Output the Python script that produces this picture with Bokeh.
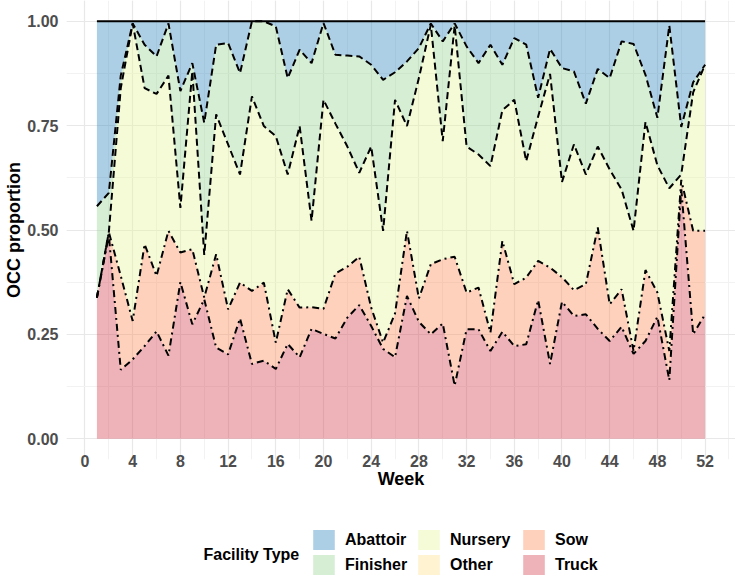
from bokeh.plotting import figure
from bokeh.layouts import column
from bokeh.models import (ColumnDataSource, Range1d, SingleIntervalTicker,
                          NumeralTickFormatter, Legend, LegendItem, Label, Title)
from bokeh.transform import stack
from bokeh.embed import file_html
from bokeh.resources import INLINE

weeks = list(range(1, 53))
categories = ["Abattoir", "Finisher", "Nursery", "Other", "Sow", "Truck"]
colors = {"Abattoir": "#3288BD", "Finisher": "#99D594", "Nursery": "#E6F598",
          "Other": "#FEE08B", "Sow": "#FC8D59", "Truck": "#D53E4F"}

truck = [0.338, 0.488, 0.165, 0.190, 0.222, 0.257, 0.199, 0.375, 0.274, 0.334,
         0.218, 0.202, 0.288, 0.179, 0.187, 0.167, 0.227, 0.195, 0.263, 0.251,
         0.240, 0.290, 0.320, 0.270, 0.215, 0.195, 0.342, 0.280, 0.250, 0.276,
         0.127, 0.262, 0.262, 0.210, 0.256, 0.222, 0.226, 0.332, 0.179, 0.328,
         0.294, 0.298, 0.263, 0.234, 0.268, 0.203, 0.234, 0.292, 0.140, 0.600,
         0.250, 0.298]
sow = [0.000, 0.007, 0.225, 0.092, 0.244, 0.133, 0.299, 0.071, 0.180, 0.004,
       0.224, 0.108, 0.086, 0.175, 0.187, 0.063, 0.131, 0.119, 0.052, 0.060,
       0.156, 0.122, 0.116, 0.044, 0.015, 0.105, 0.156, 0.056, 0.168, 0.154,
       0.309, 0.088, 0.100, 0.044, 0.218, 0.148, 0.160, 0.094, 0.231, 0.059,
       0.062, 0.072, 0.243, 0.088, 0.090, 0.007, 0.170, 0.058, 0.070, 0.020,
       0.248, 0.200]
other = [0.0, 0.0, 0.0, 0.0, 0.0, 0.0, 0.0, 0.0, 0.0, 0.0,
         0.0, 0.0, 0.0, 0.0, 0.0, 0.0, 0.0, 0.0, 0.0, 0.0,
         0.0, 0.0, 0.0, 0.0, 0.0, 0.0, 0.0, 0.0, 0.0, 0.0,
         0.0, 0.0, 0.0, 0.0, 0.0, 0.0, 0.0, 0.0, 0.0, 0.0,
         0.0, 0.0, 0.0, 0.0, 0.0, 0.0, 0.0, 0.0, 0.0, 0.0,
         0.0, 0.0]
nursery = [0.000, 0.000, 0.450, 0.713, 0.374, 0.436, 0.372, 0.107, 0.426, 0.102,
           0.335, 0.395, 0.259, 0.466, 0.375, 0.495, 0.275, 0.435, 0.207, 0.501,
           0.359, 0.288, 0.201, 0.386, 0.268, 0.512, 0.251, 0.528, 0.574, 0.283,
           0.554, 0.350, 0.319, 0.399, 0.313, 0.442, 0.279, 0.346, 0.464, 0.228,
           0.349, 0.263, 0.194, 0.323, 0.239, 0.288, 0.355, 0.305, 0.390, 0.013,
           0.332, 0.398]
finisher = [0.219, 0.094, 0.030, 0.000, 0.104, 0.090, 0.125, 0.280, 0.020, 0.317,
            0.167, 0.243, 0.243, 0.180, 0.251, 0.263, 0.231, 0.183, 0.378, 0.184,
            0.165, 0.218, 0.279, 0.196, 0.362, 0.066, 0.155, 0.072, 0.003, 0.239,
            0.005, 0.240, 0.219, 0.291, 0.109, 0.148, 0.279, 0.045, 0.060, 0.273,
            0.175, 0.170, 0.186, 0.219, 0.355, 0.448, 0.113, 0.114, 0.390, 0.114,
            0.024, 0.000]
abattoir = [0.443, 0.411, 0.130, 0.005, 0.056, 0.084, 0.005, 0.167, 0.100, 0.243,
            0.056, 0.052, 0.124, 0.000, 0.000, 0.012, 0.136, 0.068, 0.100, 0.004,
            0.080, 0.082, 0.084, 0.104, 0.140, 0.122, 0.096, 0.064, 0.005, 0.048,
            0.005, 0.060, 0.100, 0.056, 0.104, 0.040, 0.056, 0.183, 0.066, 0.112,
            0.120, 0.197, 0.114, 0.136, 0.048, 0.054, 0.128, 0.231, 0.010, 0.253,
            0.146, 0.104]

source = ColumnDataSource(dict(week=weeks, Truck=truck, Sow=sow, Other=other,
                               Nursery=nursery, Finisher=finisher, Abattoir=abattoir))

FONT = "Liberation Sans"

# ---------------- main chart ----------------
p = figure(width=735, height=500, output_backend="svg", toolbar_location=None,
           x_range=Range1d(-1.55, 54.55), y_range=Range1d(-0.05, 1.05),
           min_border_left=66, min_border_right=0, min_border_top=0,
           min_border_bottom=41)
p.outline_line_color = None
p.background_fill_color = "white"

bottom_up = ["Truck", "Sow", "Other", "Nursery", "Finisher", "Abattoir"]
areas = p.varea_stack(stackers=bottom_up, x="week", source=source,
                      color=[colors[c] for c in bottom_up], fill_alpha=0.4)

dashdot = "7 4 2 4"
dashed = "7 4"
line_styles = [("Truck", dashdot), ("Sow", dashdot), ("Nursery", dashed),
               ("Finisher", dashed), ("Abattoir", "solid")]
for name, dash in line_styles:
    idx = bottom_up.index(name)
    p.line(x="week", y=stack(*bottom_up[:idx + 1]), source=source,
           line_color="black", line_width=2, line_dash=dash)

p.xaxis.ticker = SingleIntervalTicker(interval=4, num_minor_ticks=2)
p.yaxis.ticker = SingleIntervalTicker(interval=0.25, num_minor_ticks=2)
p.yaxis.formatter = NumeralTickFormatter(format="0.00")
p.yaxis.axis_label = "OCC proportion"
for ax in (p.xaxis[0], p.yaxis[0]):
    ax.axis_line_color = None
    ax.major_tick_line_color = None
    ax.minor_tick_line_color = None
    ax.major_tick_out = 0
    ax.minor_tick_out = 0
    ax.major_label_text_font = FONT
    ax.major_label_text_font_style = "bold"
    ax.major_label_text_font_size = "16px"
    ax.major_label_text_color = "#4D4D4D"
    ax.axis_label_text_font = FONT
    ax.axis_label_text_font_style = "bold"
    ax.axis_label_text_font_size = "18px"
    ax.axis_label_text_color = "black"
p.xaxis.major_label_standoff = -5
p.yaxis.major_label_standoff = 8
p.yaxis.axis_label_standoff = 0

week_title = Title(text="Week", align="center", offset=-26, standoff=-6,
                   text_font=FONT, text_font_style="bold",
                   text_font_size="18px", text_color="black")
p.add_layout(week_title, "below")

for g in (p.xgrid[0], p.ygrid[0]):
    g.grid_line_color = "#E8E8E8"
    g.grid_line_width = 1.2
    g.minor_grid_line_color = "#F2F2F2"
    g.minor_grid_line_width = 1

# ---------------- legend strip ----------------
# y range keeps the zero-height key renderers out of view; only their legend glyphs show
lg = figure(width=735, height=76, output_backend="svg", toolbar_location=None,
            x_range=Range1d(0, 735), y_range=Range1d(5, 81),
            x_axis_type=None, y_axis_type=None, min_border=0)
lg.outline_line_color = None

items = []
for c in categories:
    r = lg.varea(x="week", y1=0, y2=0, source=source,
                 fill_color=colors[c], fill_alpha=0.4)
    items.append(LegendItem(label=c, renderers=[r]))

legend = Legend(items=items, orientation="vertical", ncols=3,
                location=(244, -1))
legend.label_text_font = FONT
legend.label_text_font_style = "bold"
legend.label_text_font_size = "16px"
legend.label_text_color = "black"
legend.glyph_width = 27
legend.glyph_height = 25
legend.label_standoff = 8
legend.label_width = 70
legend.spacing = 0
legend.padding = 0
legend.margin = 0
legend.border_line_color = None
legend.background_fill_alpha = 0
lg.add_layout(legend, "center")

legend_title = Label(x=137, y=22, x_units="screen", y_units="screen",
                     text="Facility Type", text_font=FONT, text_font_style="bold",
                     text_font_size="16px", text_color="black",
                     text_baseline="middle", text_align="left")
lg.add_layout(legend_title, "center")

layout = column(p, lg, spacing=0)
open("out.html", "w").write(file_html(layout, INLINE))
